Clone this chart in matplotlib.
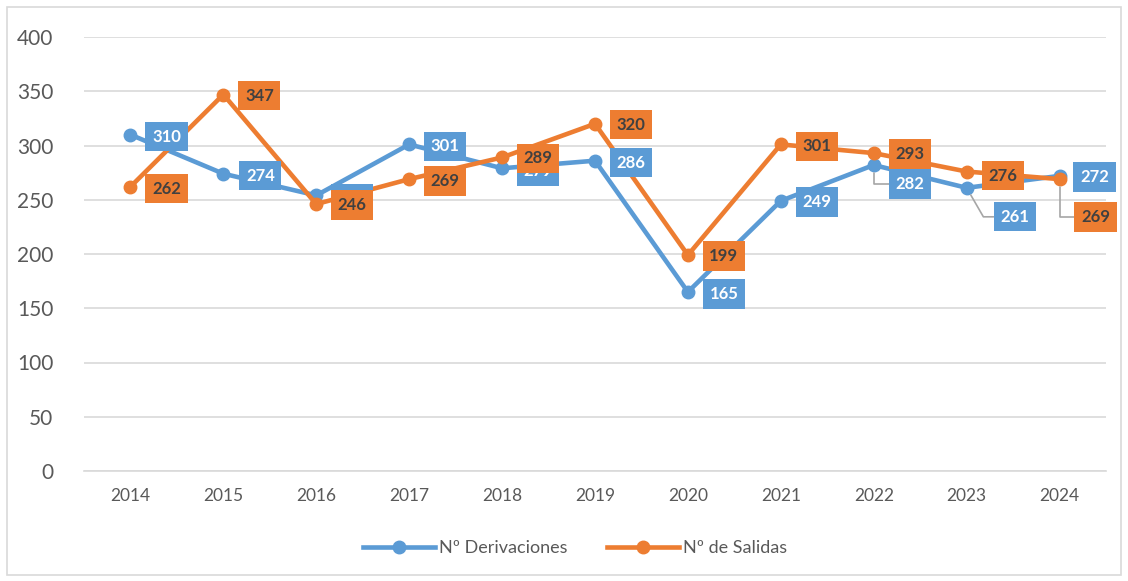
import numpy as np
import matplotlib.pyplot as plt
from matplotlib.patches import Rectangle

years = ['2014', '2015', '2016', '2017', '2018', '2019', '2020', '2021', '2022', '2023', '2024']
derivaciones = [310, 274, 254, 301, 279, 286, 165, 249, 282, 261, 272]
salidas = [262, 347, 246, 269, 289, 320, 199, 301, 293, 276, 269]

BLUE = '#5B9BD5'
ORANGE = '#ED7D31'
GRID = '#D9D9D9'
TXT = '#595959'

# label offsets in pixels (dx, dy), dy up
off_d = [(36, -2), (37, -2), (36, -3), (36, -2), (36, -3), (36, -2),
         (36, -2), (36, -1), (36, -19), (48, -29), (35, -1)]
off_s = [(36, -2), (36, -1), (36, -1), (36, -2), (36, -1), (36, -1),
         (36, -1), (36, -2), (36, -1), (36, -4), (36, -38)]
leader_d = {8: "angle,angleA=0,angleB=90,rad=0", 9: "angle,angleA=0,angleB=-60,rad=0"}
leader_s = {10: "angle,angleA=0,angleB=90,rad=0"}

plt.rcParams['font.family'] = ['Lato', 'DejaVu Sans']

fig = plt.figure(figsize=(11.28, 5.81), dpi=100)
ax = fig.add_axes([84/1128, 1 - 471/581, (1106-84)/1128, (471-37)/581])

x = np.arange(len(years))
ax.plot(x, derivaciones, color=BLUE, lw=3.3, marker='o', ms=9, label='Nº Derivaciones', zorder=3)
ax.plot(x, salidas, color=ORANGE, lw=3.3, marker='o', ms=9, label='Nº de Salidas', zorder=3)


def add_labels(vals, offs, leaders, fc, tc, z):
    for i, v in enumerate(vals):
        dx, dy = offs[i]
        ap = None
        if i in leaders:
            ap = dict(arrowstyle='-', color='#A6A6A6', lw=1.2, shrinkA=0, shrinkB=6,
                      relpos=(0, 0.5), connectionstyle=leaders[i])
        ax.annotate(str(v), xy=(i, v), xytext=(dx, dy), textcoords='offset pixels',
                    ha='center', va='center', fontsize=12, fontweight='bold', color=tc,
                    bbox=dict(boxstyle='square,pad=0.4', fc=fc, ec='none'),
                    arrowprops=ap, zorder=z, annotation_clip=False)


add_labels(derivaciones, off_d, leader_d, BLUE, 'white', 4)
add_labels(salidas, off_s, leader_s, ORANGE, '#404040', 5)

ax.set_xlim(-0.5, len(years) - 0.5)
ax.set_ylim(0, 400)
ax.set_yticks(np.arange(0, 401, 50))
ax.set_xticks(x)
ax.set_xticklabels(years)
ax.grid(axis='y', color=GRID, lw=1.2)
ax.set_axisbelow(True)
for s in ['top', 'right', 'left']:
    ax.spines[s].set_visible(False)
ax.spines['bottom'].set_color(GRID)
ax.spines['bottom'].set_linewidth(1.2)
ax.tick_params(axis='y', length=0, pad=22, labelsize=15, labelcolor=TXT)
ax.tick_params(axis='x', length=0, pad=12, labelsize=12.5, labelcolor=TXT)

leg = fig.legend(loc='center', bbox_to_anchor=(575/1128, 1 - 548/581), ncol=2, frameon=False,
                 fontsize=13, handlelength=4, columnspacing=2.2, handletextpad=0.2)
for t in leg.get_texts():
    t.set_color(TXT)

fig.patches.append(Rectangle((7/1128, 6/581), 1114/1128, 568/581, transform=fig.transFigure,
                             fill=False, ec=GRID, lw=1.2))

fig.savefig('out.png', dpi=100)
